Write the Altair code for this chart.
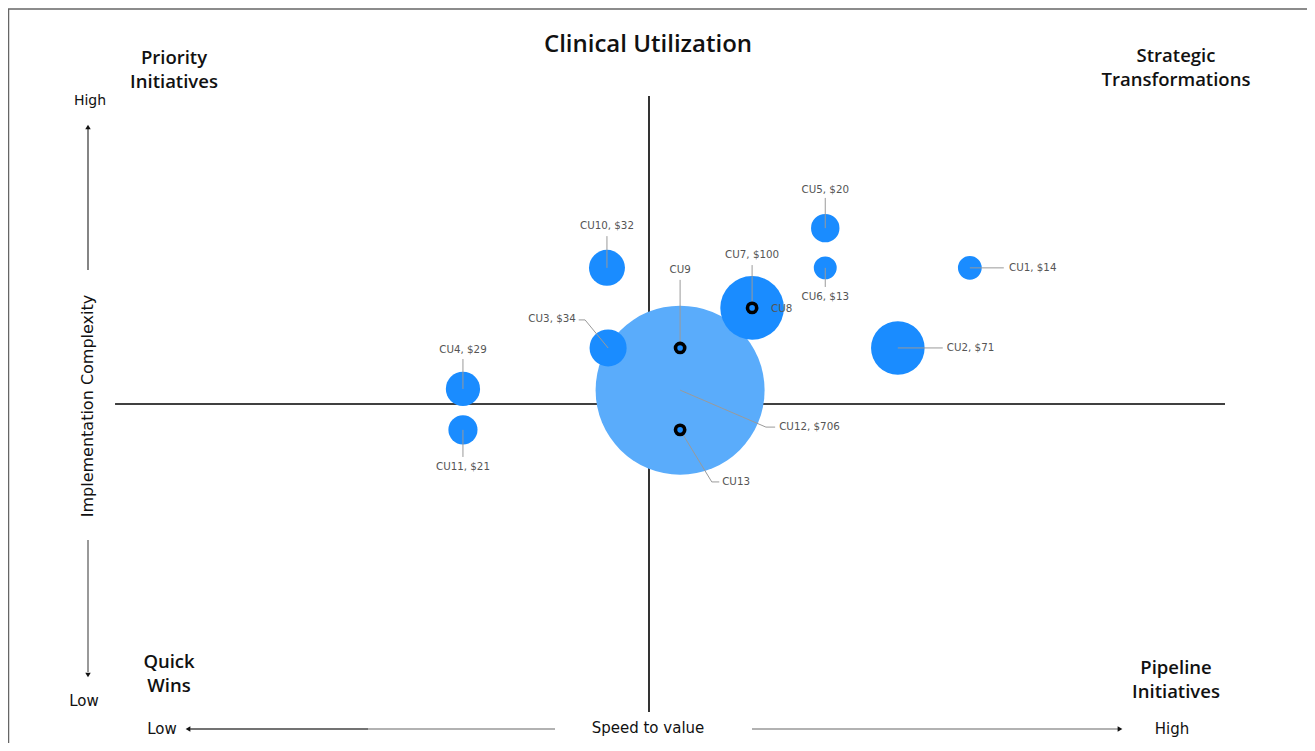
import altair as alt
import pandas as pd

# ---------------- data ----------------
names = ["CU1", "CU2", "CU3", "CU4", "CU5", "CU6", "CU7", "CU10", "CU11", "CU12"]
values = [14, 71, 34, 29, 20, 13, 100, 32, 21, 706]          # $
speed = [5.57, 4.32, -0.71, -3.23, 3.06, 3.06, 1.79, -0.73, -3.23, 0.54]
complexity = [4.42, 1.82, 1.82, 0.49, 5.71, 4.42, 3.12, 4.42, -0.84, 0.45]

marker_names = ["CU8", "CU9", "CU13"]
marker_speed = [1.79, 0.54, 0.54]
marker_complexity = [3.12, 1.82, -0.84]

# label anchors (data units) and leader end/elbow points
label_names = ["CU1", "CU2", "CU3", "CU4", "CU5", "CU6", "CU7", "CU8", "CU9",
               "CU10", "CU11", "CU12", "CU13"]
label_x = [6.25, 5.17, -1.27, -3.23, 3.06, 3.06, 1.79, 2.12, 0.54, -0.73, -3.23, 2.26, 1.27]
label_y = [4.42, 1.82, 2.76, 1.75, 6.95, 3.47, 4.84, 3.08, 4.35, 5.78, -2.05, -0.75, -2.53]
label_align = ["left", "left", "right", "center", "center", "center", "center", "left",
               "center", "center", "center", "left", "left"]
elbow_x = [6.16, 5.10, -1.11, -3.23, 3.06, 3.06, 1.79, None, 0.54, -0.73, -3.23, 2.03, 1.09]
elbow_y = [4.42, 1.82, 2.73, 1.46, 6.69, 3.80, 4.51, None, 4.03, 5.45, -1.72, -0.75, -2.53]
end_x = [6.16, 5.10, -1.22, -3.23, 3.06, 3.06, 1.79, None, 0.54, -0.73, -3.23, 2.19, 1.22]
end_y = [4.42, 1.82, 2.73, 1.46, 6.69, 3.80, 4.51, None, 4.03, 5.45, -1.72, -0.75, -2.53]

# ---------------- tables ----------------
bubbles = pd.DataFrame({"name": names, "value": values, "speed": speed, "complexity": complexity})
markers = pd.DataFrame({"name": marker_names, "speed": marker_speed, "complexity": marker_complexity})

pos = {n: (s, c) for n, s, c in zip(names, speed, complexity)}
pos.update({n: (s, c) for n, s, c in zip(marker_names, marker_speed, marker_complexity)})
val = dict(zip(names, values))

labels = pd.DataFrame({
    "name": label_names,
    "text": [f"{n}, ${val[n]}" if n in val else n for n in label_names],
    "speed": label_x, "complexity": label_y, "align": label_align,
})

rows = []
for i, n in enumerate(label_names):
    if end_x[i] is None:
        continue
    sx, sy = pos[n]
    rows.append({"name": n, "k": 0, "speed": sx, "complexity": sy})
    rows.append({"name": n, "k": 1, "speed": elbow_x[i], "complexity": elbow_y[i]})
    rows.append({"name": n, "k": 2, "speed": end_x[i], "complexity": end_y[i]})
leaders = pd.DataFrame(rows)

# ---------------- scales ----------------
xs = alt.Scale(domain=[-10, 10], range=[65, 1217])
ys = alt.Scale(domain=[-10, 10], range=[704, 88])
DARK = "#1a8cff"
LIGHT = "#5aacfb"


def X(f="speed"):
    return alt.X(f, type="quantitative", scale=xs, axis=None)


def Y(f="complexity"):
    return alt.Y(f, type="quantitative", scale=ys, axis=None)


blank = alt.Data(values=[{}])


def txt(text, x, y, size, weight="normal", font="DejaVu Sans", color="#111", angle=0, align="center"):
    return alt.Chart(blank).mark_text(
        text=text, fontSize=size, fontWeight=weight, font=font, color=color,
        align=align, baseline="middle", angle=angle
    ).encode(x=alt.value(x), y=alt.value(y))


def rule(x1, y1, x2, y2, color="#111", w=1.2):
    return alt.Chart(blank).mark_rule(color=color, strokeWidth=w).encode(
        x=alt.value(x1), y=alt.value(y1), x2=alt.value(x2), y2=alt.value(y2))


def head(x, y, shape, size=45):
    return alt.Chart(blank).mark_point(shape=shape, filled=True, size=size, color="#111",
                                       opacity=1).encode(x=alt.value(x), y=alt.value(y))


# quadrant dividers
quad_v = alt.Chart(blank).mark_rule(color="#000", strokeWidth=1.6).encode(
    x=alt.datum(0, scale=xs, axis=None), y=alt.datum(-10, scale=ys, axis=None), y2=alt.datum(10))
quad_h = alt.Chart(blank).mark_rule(color="#000", strokeWidth=1.6).encode(
    y=alt.datum(0, scale=ys, axis=None), x=alt.datum(-9.27, scale=xs, axis=None), x2=alt.datum(10))

# circle symbol: size = (diameter)^2  ->  $706 gives radius ~84.5 px
bubble_layer = alt.Chart(bubbles).mark_circle(opacity=1).encode(
    x=X(), y=Y(),
    size=alt.Size("value:Q", scale=alt.Scale(domain=[0, 706], range=[0, 28561]), legend=None),
    color=alt.condition(alt.datum.name == "CU12", alt.value(LIGHT), alt.value(DARK)),
    order=alt.Order("value:Q", sort="descending"),
)

leader_layer = alt.Chart(leaders).mark_line(color="#9a9a9a", strokeWidth=1).encode(
    x=X(), y=Y(), detail="name:N", order="k:Q")

marker_layer = alt.Chart(markers).mark_circle(
    size=85, fill=DARK, stroke="#000", strokeWidth=3.6, opacity=1, fillOpacity=1
).encode(x=X(), y=Y())

label_layers = []
for a in ["left", "center", "right"]:
    label_layers.append(
        alt.Chart(labels).transform_filter(alt.datum.align == a).mark_text(
            align=a, baseline="middle", font="DejaVu Sans", fontSize=10.3, color="#555"
        ).encode(x=X(), y=Y(), text="text:N")
    )

QF = "Open Sans"
deco = [
    # frame
    rule(0.5, 1, 0.5, 735, color="#666", w=1.5),
    rule(0, 1, 1299, 1, color="#666", w=1.5),
    # title and quadrant names
    txt("Clinical Utilization", 640, 37, 24, weight=600, font=QF),
    txt("Priority", 166, 50, 18.5, weight=600, font=QF),
    txt("Initiatives", 166, 74, 18.5, weight=600, font=QF),
    txt("Strategic", 1168, 48, 18.5, weight=600, font=QF),
    txt("Transformations", 1168, 72, 18.5, weight=600, font=QF),
    txt("Quick", 161, 654, 18.5, weight=600, font=QF),
    txt("Wins", 161, 678, 18.5, weight=600, font=QF),
    txt("Pipeline", 1168, 660, 18.5, weight=600, font=QF),
    txt("Initiatives", 1168, 684, 18.5, weight=600, font=QF),
    # y-axis annotation
    txt("High", 82, 93, 14, font="DejaVu Sans"),
    rule(80, 120, 80, 262, color="#333", w=1.2),
    head(80, 119, "triangle-up", 30),
    txt("Implementation Complexity", 80, 398, 16, font="DejaVu Sans", color="#111", angle=270),
    rule(80, 532, 80, 664, color="#555", w=1.2),
    head(80, 667, "triangle-down", 30),
    txt("Low", 76, 693, 15, font="DejaVu Sans"),
    # x-axis annotation
    txt("Low", 154, 721, 15, font="DejaVu Sans"),
    head(180, 721, "triangle-left", 30),
    rule(182, 721, 360, 721, color="#444", w=1.4),
    rule(360, 721, 547, 721, color="#999", w=1.3),
    txt("Speed to value", 640, 720, 15, font="DejaVu Sans"),
    rule(744, 721, 1110, 721, color="#666", w=1.2),
    head(1112, 721, "triangle-right", 30),
    txt("High", 1164, 721, 15, font="DejaVu Sans"),
]

chart = alt.layer(
    quad_v, quad_h, bubble_layer, leader_layer, marker_layer, *label_layers, *deco
).properties(
    width=1299, height=735, autosize=alt.AutoSizeParams(type="none"), padding=0
).configure_view(stroke=None)

chart.save("out.html", embed_options={"renderer": "svg", "actions": False})
